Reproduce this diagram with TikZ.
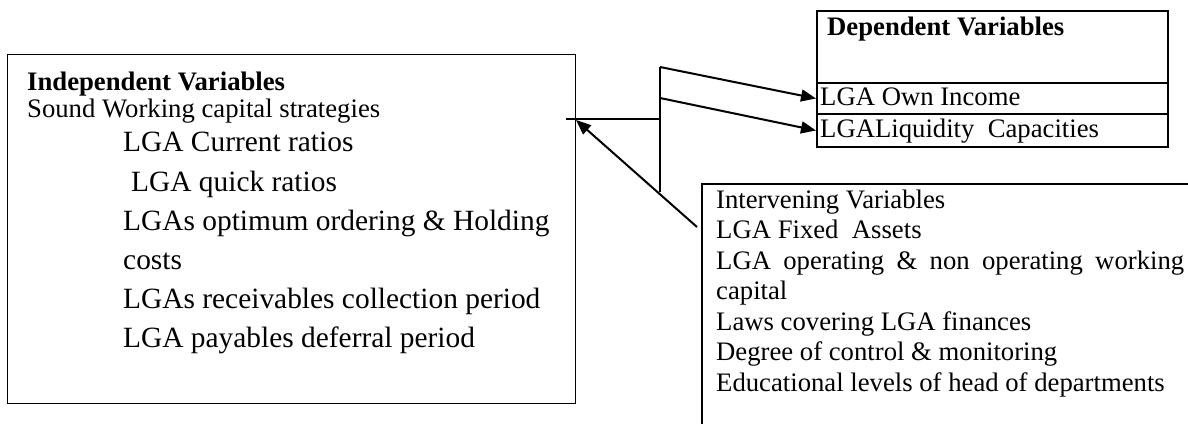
\documentclass[tikz,border=0pt]{standalone}
\usepackage{fontspec}
\setmainfont{Liberation Serif}
\usetikzlibrary{arrows.meta}
\newcommand{\smallfs}{\fontsize{26.7pt}{30.7pt}\selectfont}
\newcommand{\bigfs}{\fontsize{29.4pt}{38pt}\selectfont}
\begin{document}
\begin{tikzpicture}[x=1pt, y=-1pt,
  box/.style={draw, line width=2pt, inner sep=0pt, anchor=north west},
  txt/.style={inner sep=0pt, anchor=base west, font=\smallfs},
  bigtxt/.style={txt, font=\bigfs},
  conn/.style={line width=2pt},
  arr/.style={conn, -{Triangle[length=15pt,width=12pt]}}]
\useasboundingbox (0,0) rectangle (1188,423);
\clip (0,0) rectangle (1188,423);
% boxes
\node[box, line width=1.3pt, minimum width=568pt, minimum height=349pt] (indep) at (7,54) {};
\node[box, minimum width=351pt, minimum height=72pt] (dephead) at (816,10) {};
\node[box, minimum width=351pt, minimum height=31pt] (own) at (816,82) {};
\node[box, minimum width=351pt, minimum height=33pt] (liq) at (816,113) {};
\node[box, minimum width=520pt, minimum height=260pt] (interv) at (701,183) {};
% independent texts
\node[txt] (t1) at (27,90) {\bfseries Independent Variables};
\node[txt] (t2) at (27,117.7) {Sound Working capital strategies};
\node[bigtxt] (t3) at (123,151) {LGA Current ratios};
\node[bigtxt] (t4) at (131,191) {LGA quick ratios};
\node[bigtxt] (t5) at (123,230) {LGAs optimum ordering \& Holding};
\node[bigtxt] (t6) at (123,269) {costs};
\node[bigtxt] (t7) at (123,308) {LGAs receivables collection period};
\node[bigtxt] (t8) at (123,347) {LGA payables deferral period};
% dependent texts
\node[txt] (d1) at (827,35) {\bfseries Dependent Variables};
\node[txt] (d2) at (820,105) {LGA Own Income};
\node[txt] (d3) at (820,137) {LGALiquidity\ \ Capacities};
% intervening texts
\node[txt] (i1) at (716,208) {Intervening Variables};
\node[txt] (i2) at (716,238.5) {LGA Fixed\ \ Assets};
\node[txt] (i3) at (716,269) {\makebox[468pt][s]{LGA operating \& non operating working}};
\node[txt] (i4) at (716,299.5) {capital};
\node[txt] (i5) at (716,330) {Laws covering LGA finances};
\node[txt] (i6) at (716,360.5) {Degree of control \& monitoring};
\node[txt] (i7) at (716,391) {Educational levels of head of departments};
% connectors
\coordinate (jt) at (660,67);
\coordinate (jm) at (660,98);
\coordinate (jh) at (660,119);
\coordinate (jb) at (660,192);
\coordinate (hl) at (566,119);
\coordinate (ia) at (697,227);
\coordinate (it) at (576,120);
\draw[conn] (jt) -- (jb);
\draw[conn] (hl) -- (jh);
\draw[arr] (jt) -- (own.west);
\draw[arr] (jm) -- (liq.west);
\draw[arr] (ia) -- (it);
\end{tikzpicture}
\end{document}
